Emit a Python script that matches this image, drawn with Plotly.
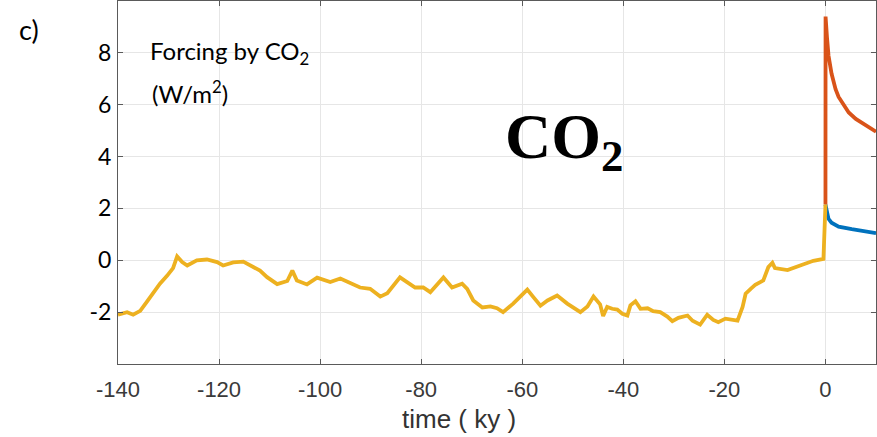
import plotly.graph_objects as go

# Glacial-cycle CO2 radiative forcing (W/m^2) versus time (ky)
t_past = [-140, -138.2, -137, -135.6, -134.3, -133.1, -131.7, -130.3, -129.1, -128.3,
          -127.3, -126.3, -124.4, -122.4, -120.4, -119.2, -117.2, -115.2, -113.3, -111.9,
          -110.5, -108.5, -106.5, -105.5, -104.6, -102.6, -100.6, -98, -96, -94.1,
          -92.1, -90.1, -88.1, -86.7, -84.2, -81.2, -79.6, -78.2, -75.6, -73.9,
          -71.9, -70.9, -69.7, -67.9, -66.3, -65, -63.8, -61.8, -59, -57.8,
          -56.4, -55, -53.1, -51.1, -48.5, -47.1, -45.9, -44.6, -44, -43.2,
          -42.2, -41.2, -40.2, -39.2, -38.6, -37.6, -36.6, -35.2, -34.1, -32.7,
          -31.3, -30.3, -29.1, -27.3, -26.3, -24.8, -23.4, -22.2, -21.2, -19.8,
          -18.4, -17.4, -16.4, -15.8, -14.8, -13.9, -12.9, -12.3, -11.3, -10.5,
          -10, -7.5, -5, -2.4, -0.4, 0]
f_past = [-2.1, -2.0, -2.1, -1.95, -1.6, -1.25, -0.9, -0.6, -0.3, 0.15,
          -0.07, -0.2, 0.0, 0.03, -0.07, -0.2, -0.08, -0.05, -0.26, -0.4,
          -0.65, -0.92, -0.8, -0.4, -0.78, -0.93, -0.67, -0.84, -0.7, -0.88,
          -1.05, -1.1, -1.4, -1.27, -0.66, -1.05, -1.05, -1.23, -0.66, -1.05,
          -0.9, -1.1, -1.55, -1.82, -1.78, -1.85, -2.0, -1.67, -1.13, -1.42,
          -1.75, -1.55, -1.36, -1.67, -2.0, -1.78, -1.4, -1.7, -2.15, -1.8,
          -1.87, -1.9, -2.06, -2.13, -1.74, -1.58, -1.87, -1.85, -1.96, -2.0,
          -2.17, -2.35, -2.22, -2.13, -2.33, -2.48, -2.1, -2.3, -2.39, -2.25,
          -2.3, -2.33, -1.8, -1.29, -1.1, -0.95, -0.84, -0.78, -0.26, -0.1,
          -0.3, -0.38, -0.2, -0.02, 0.05, 2.15]

# Future scenarios
t_high = [0, 0.02, 0.3, 0.6, 1.2, 2.0, 2.6, 3.5, 4.6, 6, 7.2, 8.5, 10]
f_high = [2.15, 9.4, 8.6, 7.9, 7.2, 6.6, 6.3, 6.0, 5.7, 5.45, 5.3, 5.12, 4.96]
t_low = [0, 0.3, 0.6, 1.2, 2.6, 5.2, 7.5, 10]
f_low = [2.15, 1.8, 1.6, 1.45, 1.3, 1.2, 1.12, 1.05]

x_ticks = [-140, -120, -100, -80, -60, -40, -20, 0]
y_ticks = [-2, 0, 2, 4, 6, 8]

fig = go.Figure()
fig.add_trace(go.Scatter(x=t_low, y=f_low, mode="lines",
                         line=dict(color="#0072BD", width=3.8)))
fig.add_trace(go.Scatter(x=t_high, y=f_high, mode="lines",
                         line=dict(color="#D95319", width=3.8)))
fig.add_trace(go.Scatter(x=t_past, y=f_past, mode="lines",
                         line=dict(color="#EDB120", width=3.8)))

axis_common = dict(showgrid=True, gridcolor="#e6e6e6", gridwidth=1,
                   zeroline=False, showline=True, linecolor="#5a5a5a", linewidth=1,
                   ticks="inside", ticklen=5, tickcolor="#5a5a5a", mirror="ticks")

fig.update_xaxes(range=[-140, 10], tickvals=x_ticks,
                 ticktext=[str(v) for v in x_ticks],
                 tickfont=dict(family="Liberation Sans", size=22, color="#3a3a3a"),
                 ticklabelstandoff=6, **axis_common)
fig.update_yaxes(range=[-4, 10], tickvals=y_ticks,
                 ticktext=[str(v) for v in y_ticks],
                 tickfont=dict(family="Lato", size=23, color="#000000"),
                 ticklabelstandoff=1, **axis_common)

fig.add_annotation(text="time ( ky )", xref="paper", yref="paper",
                   x=(459 - 118) / 758, y=-38 / 363, xanchor="center", yanchor="top",
                   showarrow=False,
                   font=dict(family="Liberation Sans", size=26, color="#333333"))
fig.add_annotation(text="c)", xref="paper", yref="paper",
                   x=-101 / 758, y=1 - 10 / 363, xanchor="left", yanchor="top",
                   showarrow=False, font=dict(family="Lato", size=27, color="#000000"))
fig.add_annotation(text="Forcing by CO<sub>2</sub>", xref="paper", yref="paper",
                   x=(148 - 118) / 758, y=1 - 33 / 363, xanchor="left", yanchor="top",
                   showarrow=False, font=dict(family="Lato", size=24, color="#000000"))
fig.add_annotation(text="(W/m<sup>2</sup>)", xref="paper", yref="paper",
                   x=(150 - 118) / 758, y=1 - 73 / 363, xanchor="left", yanchor="top",
                   showarrow=False, font=dict(family="Lato", size=24, color="#000000"))
fig.add_annotation(text="<b>CO<sub>2</sub></b>", xref="paper", yref="paper",
                   x=(503 - 118) / 758, y=1 - 98 / 363, xanchor="left", yanchor="top",
                   showarrow=False,
                   font=dict(family="Liberation Serif", size=64, color="#000000"))

fig.update_layout(width=877, height=437, margin=dict(l=118, r=1, t=1, b=73),
                  plot_bgcolor="white", paper_bgcolor="white", showlegend=False)

fig.write_html("out.html")
